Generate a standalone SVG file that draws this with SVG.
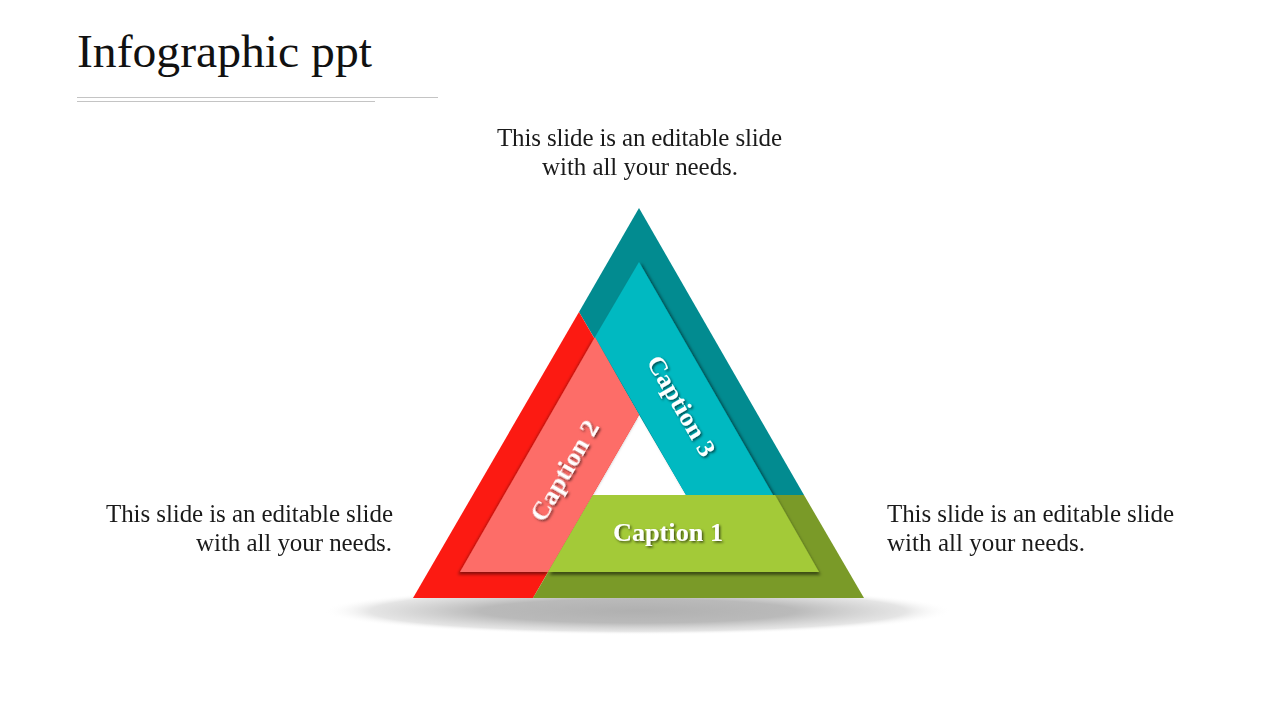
<svg xmlns="http://www.w3.org/2000/svg" width="1280" height="720" viewBox="0 0 1280 720">
  <defs>
    <radialGradient id="groundShadow" cx="0.5" cy="0.5" r="0.5">
      <stop offset="0" stop-color="#b0b0b0"/>
      <stop offset="0.5" stop-color="#bababa"/>
      <stop offset="0.85" stop-color="#dadada" stop-opacity="0.7"/>
      <stop offset="1" stop-color="#ffffff" stop-opacity="0"/>
    </radialGradient>
    <filter id="shTeal" x="-20%" y="-20%" width="140%" height="140%">
      <feDropShadow dx="2.5" dy="1.5" stdDeviation="1.8" flood-color="#000" flood-opacity="0.5"/>
    </filter>
    <filter id="shPink" x="-20%" y="-20%" width="140%" height="140%">
      <feDropShadow dx="-2" dy="2.5" stdDeviation="1.8" flood-color="#000" flood-opacity="0.45"/>
    </filter>
    <filter id="shGreen" x="-20%" y="-20%" width="140%" height="140%">
      <feDropShadow dx="1.5" dy="3" stdDeviation="1.8" flood-color="#000" flood-opacity="0.5"/>
    </filter>
    <filter id="txtSh" x="-20%" y="-20%" width="140%" height="140%">
      <feDropShadow dx="1.5" dy="1.5" stdDeviation="1" flood-color="#000" flood-opacity="0.6"/>
    </filter>
  </defs>
  <style>
    .title { font-family: "Liberation Serif", "Times New Roman", serif; font-size: 47px; fill: #111111; }
    .body { font-family: "Liberation Serif", "Times New Roman", serif; font-size: 25px; fill: #1a1a1a; }
    .cap { font-family: "Liberation Serif", "Times New Roman", serif; font-size: 25px; font-weight: bold; fill: #ffffff; }
    .rule { stroke: #c4c4c4; stroke-width: 1.2; }
  </style>

  <rect width="1280" height="720" fill="#ffffff"/>

  <g id="title">
    <text class="title" x="77" y="67" textLength="295" lengthAdjust="spacingAndGlyphs">Infographic ppt</text>
    <line class="rule" x1="77" y1="97.5" x2="438" y2="97.5"/>
    <line class="rule" x1="77" y1="101.5" x2="375" y2="101.5"/>
  </g>

  <ellipse id="ground-shadow" cx="638" cy="611" rx="315" ry="24" fill="url(#groundShadow)"/>

  <g id="node-teal">
    <polygon points="639,208 804,495 686,495 579,312" fill="#028b90"/>
    <polygon points="639,262 773,495 686,495 595,337" fill="#00b9c1" filter="url(#shTeal)"/>
  </g>
  <g id="node-red">
    <polygon points="579,312 413,598 533,598 639,415" fill="#fc1a12"/>
    <polygon points="595,337 460,572 548,572 639,415" fill="#fd6d68" filter="url(#shPink)"/>
  </g>
  <g id="node-green">
    <polygon points="593,495 804,495 864,598 533,598" fill="#7a9a28"/>
    <polygon points="593,495 775,495 819,572 548,572" fill="#a3ca38" filter="url(#shGreen)"/>
  </g>

  <g id="captions" filter="url(#txtSh)">
    <text class="cap" x="668" y="541" text-anchor="middle" textLength="110" lengthAdjust="spacingAndGlyphs">Caption 1</text>
    <text class="cap" text-anchor="middle" textLength="112" lengthAdjust="spacingAndGlyphs" transform="translate(565,471) rotate(-60)" x="0" y="8">Caption 2</text>
    <text class="cap" text-anchor="middle" textLength="112" lengthAdjust="spacingAndGlyphs" transform="translate(681,406) rotate(60)" x="0" y="8">Caption 3</text>
  </g>

  <g id="text-top">
    <text class="body" x="639.5" y="146" text-anchor="middle" textLength="285">This slide is an editable slide</text>
    <text class="body" x="640" y="175" text-anchor="middle" textLength="196">with all your needs.</text>
  </g>
  <g id="text-left">
    <text class="body" x="393" y="522" text-anchor="end" textLength="287">This slide is an editable slide</text>
    <text class="body" x="392" y="551" text-anchor="end" textLength="196">with all your needs.</text>
  </g>
  <g id="text-right">
    <text class="body" x="887" y="522" textLength="287">This slide is an editable slide</text>
    <text class="body" x="887" y="551" textLength="198">with all your needs.</text>
  </g>
</svg>
